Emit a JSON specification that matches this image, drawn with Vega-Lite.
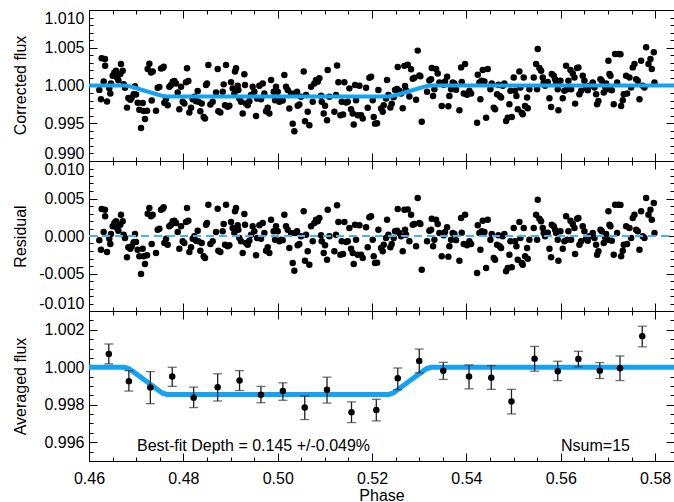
{
  "$schema": "https://vega.github.io/schema/vega-lite/v6.json",
  "padding": {"left": 11, "top": 9, "right": 1, "bottom": 0},
  "background": "white",
  "spacing": 0,
  "bounds": "flush",
  "config": {
    "view": {"stroke": "black", "strokeWidth": 1},
    "font": "Liberation Sans",
    "axis": {"domainColor": "black", "tickColor": "black", "labelColor": "black", "titleColor": "black", "labelFont": "Liberation Sans", "titleFont": "Liberation Sans", "labelFontSize": 16, "titleFontSize": 16, "titleFontWeight": "normal", "grid": false, "labelOverlap": false, "tickWidth": 1, "domainWidth": 1, "minExtent": 0}
  },
  "datasets": {
    "pts": [
      {"p":0.46219,"f":0.99942,"r":-0.00058},{"p":0.46254,"f":0.99818,"r":-0.00182},{"p":0.46269,"f":1.0036,"r":0.0036},{"p":0.46311,"f":1.00053,"r":0.00053},{"p":0.46339,"f":1.00351,"r":0.00351},{"p":0.46342,"f":1.00262,"r":0.00262},{"p":0.46382,"f":0.99787,"r":-0.00213},{"p":0.46431,"f":0.99964,"r":-0.00036},{"p":0.46452,"f":0.99893,"r":-0.00107},{"p":0.46466,"f":1.00027,"r":0.00027},
      {"p":0.46502,"f":1.00129,"r":0.00129},{"p":0.46537,"f":1.00173,"r":0.00173},{"p":0.46573,"f":1.00196,"r":0.00196},{"p":0.46594,"f":1.00107,"r":0.00107},{"p":0.46622,"f":1.00071,"r":0.00071},{"p":0.46664,"f":1.00151,"r":0.00151},{"p":0.46678,"f":1.00284,"r":0.00284},{"p":0.46714,"f":1.00196,"r":0.00196},{"p":0.46735,"f":1.00018,"r":0.00018},{"p":0.46763,"f":0.99971,"r":-0.00027},
      {"p":0.46806,"f":0.99707,"r":-0.00284},{"p":0.46834,"f":0.99835,"r":-0.00151},{"p":0.46876,"f":0.99811,"r":-0.00169},{"p":0.46905,"f":0.99837,"r":-0.00138},{"p":0.46947,"f":0.99884,"r":-0.00084},{"p":0.46975,"f":0.99991,"r":0.00027},{"p":0.46997,"f":0.9988,"r":-0.0008},{"p":0.47032,"f":0.99773,"r":-0.00182},{"p":0.47067,"f":0.99678,"r":-0.00271},{"p":0.47103,"f":0.99436,"r":-0.00507},
      {"p":0.47138,"f":0.99769,"r":-0.00169},{"p":0.47159,"f":0.99663,"r":-0.00271},{"p":0.47187,"f":0.99557,"r":-0.00373},{"p":0.4723,"f":0.99665,"r":-0.00258},{"p":0.47244,"f":1.00218,"r":0.00298},{"p":0.47279,"f":1.00288,"r":0.00373},{"p":0.47315,"f":1.00171,"r":0.00262},{"p":0.47329,"f":0.998,"r":-0.00107},{"p":0.4735,"f":1.00187,"r":0.00284},{"p":0.47421,"f":0.99665,"r":-0.00227},
      {"p":0.47456,"f":0.9997,"r":0.00084},{"p":0.47491,"f":0.99979,"r":0.00098},{"p":0.47527,"f":1.00226,"r":0.00351},{"p":0.47562,"f":1.00233,"r":0.00364},{"p":0.47583,"f":1.00248,"r":0.00382},{"p":0.47597,"f":0.99771,"r":-0.00093},{"p":0.47633,"f":0.99822,"r":-0.00036},{"p":0.47668,"f":0.99739,"r":-0.00116},{"p":0.47703,"f":0.99984,"r":0.00129},{"p":0.47739,"f":1.00006,"r":0.00151},
      {"p":0.47774,"f":1.00051,"r":0.00196},{"p":0.47809,"f":1.00059,"r":0.00204},{"p":0.47845,"f":1.00028,"r":0.00173},{"p":0.4788,"f":0.99908,"r":0.00053},{"p":0.47915,"f":0.99686,"r":-0.00169},{"p":0.47951,"f":0.99984,"r":0.00129},{"p":0.47986,"f":0.99784,"r":-0.00071},{"p":0.48021,"f":0.99762,"r":-0.00093},{"p":0.48057,"f":1.00042,"r":0.00187},{"p":0.48078,"f":1.00228,"r":0.00373},
      {"p":0.48106,"f":1.00059,"r":0.00204},{"p":0.48127,"f":0.99642,"r":-0.00213},{"p":0.48163,"f":0.99704,"r":-0.00151},{"p":0.48198,"f":0.99819,"r":-0.00036},{"p":0.48233,"f":0.99851,"r":-0.00004},{"p":0.48269,"f":0.99793,"r":-0.00062},{"p":0.48304,"f":0.99926,"r":0.00071},{"p":0.48318,"f":0.99784,"r":-0.00071},{"p":0.4836,"f":0.99659,"r":-0.00196},{"p":0.48389,"f":0.99762,"r":-0.00093},
      {"p":0.48431,"f":0.99584,"r":-0.00271},{"p":0.48459,"f":0.99562,"r":-0.00293},{"p":0.48481,"f":1.00006,"r":0.00151},{"p":0.48502,"f":1.00028,"r":0.00173},{"p":0.4853,"f":1.00273,"r":0.00418},{"p":0.48573,"f":0.99748,"r":-0.00107},{"p":0.48622,"f":0.99784,"r":-0.00071},{"p":0.48693,"f":0.99908,"r":0.00053},{"p":0.48728,"f":1.00219,"r":0.00364},{"p":0.48742,"f":0.99659,"r":-0.00196},
      {"p":0.48784,"f":0.99642,"r":-0.00213},{"p":0.48834,"f":0.99917,"r":0.00062},{"p":0.48855,"f":1.00015,"r":0.0016},{"p":0.48883,"f":0.99739,"r":-0.00116},{"p":0.48905,"f":1.00273,"r":0.00418},{"p":0.4894,"f":0.99717,"r":-0.00138},{"p":0.48975,"f":0.99731,"r":-0.00124},{"p":0.49011,"f":1.00042,"r":0.00187},{"p":0.49046,"f":0.99962,"r":0.00107},{"p":0.49081,"f":0.99895,"r":0.0004},
      {"p":0.49095,"f":1.00184,"r":0.00329},{"p":0.49117,"f":1.00228,"r":0.00373},{"p":0.49152,"f":0.99997,"r":0.00142},{"p":0.49166,"f":0.99939,"r":0.00084},{"p":0.49187,"f":0.99828,"r":-0.00027},{"p":0.49222,"f":0.99784,"r":-0.00071},{"p":0.49258,"f":0.99628,"r":-0.00227},{"p":0.49293,"f":1.00148,"r":0.00293},{"p":0.49307,"f":1.00006,"r":0.00151},{"p":0.49328,"f":0.99762,"r":-0.00093},
      {"p":0.49364,"f":0.99739,"r":-0.00116},{"p":0.49399,"f":0.99793,"r":-0.00062},{"p":0.49435,"f":0.99873,"r":0.00018},{"p":0.4947,"f":0.99984,"r":0.00129},{"p":0.49505,"f":0.99917,"r":0.00062},{"p":0.49541,"f":0.99597,"r":-0.00258},{"p":0.49562,"f":0.99828,"r":-0.00027},{"p":0.49611,"f":0.99997,"r":0.00142},{"p":0.49647,"f":0.99819,"r":-0.00036},{"p":0.49682,"f":1.00028,"r":0.00173},
      {"p":0.49717,"f":0.99895,"r":0.0004},{"p":0.49753,"f":0.99659,"r":-0.00196},{"p":0.49788,"f":0.99704,"r":-0.00151},{"p":0.49823,"f":0.99628,"r":-0.00227},{"p":0.49859,"f":1.00073,"r":0.00218},{"p":0.49915,"f":0.99917,"r":0.00062},{"p":0.49944,"f":0.99806,"r":-0.00049},{"p":0.49965,"f":0.99984,"r":0.00129},{"p":0.5,"f":0.99917,"r":0.00062},{"p":0.50035,"f":0.99784,"r":-0.00071},
      {"p":0.50071,"f":0.99806,"r":-0.00049},{"p":0.50106,"f":0.998,"r":-0.00055},{"p":0.50141,"f":1.00139,"r":0.00284},{"p":0.50177,"f":0.99984,"r":0.00129},{"p":0.50212,"f":0.99939,"r":0.00084},{"p":0.50247,"f":0.99695,"r":-0.0016},{"p":0.50283,"f":0.99895,"r":0.0004},{"p":0.50318,"f":0.99495,"r":-0.0036},{"p":0.50353,"f":0.99393,"r":-0.00462},{"p":0.50367,"f":0.99895,"r":0.0004},
      {"p":0.5041,"f":0.99917,"r":0.00062},{"p":0.50424,"f":0.99731,"r":-0.00124},{"p":0.50459,"f":0.99748,"r":-0.00107},{"p":0.50494,"f":0.99851,"r":-0.00004},{"p":0.50551,"f":1.00184,"r":0.00329},{"p":0.50579,"f":0.99526,"r":-0.00329},{"p":0.50601,"f":0.99873,"r":0.00018},{"p":0.50636,"f":0.99651,"r":-0.00204},{"p":0.50671,"f":0.99473,"r":-0.00382},{"p":0.50707,"f":0.99984,"r":0.00129},
      {"p":0.50742,"f":0.99784,"r":-0.00071},{"p":0.50777,"f":1.00028,"r":0.00173},{"p":0.50813,"f":1.00073,"r":0.00218},{"p":0.50848,"f":1.00051,"r":0.00196},{"p":0.50883,"f":1.00095,"r":0.0024},{"p":0.50919,"f":0.99864,"r":0.00009},{"p":0.50933,"f":0.99784,"r":-0.00071},{"p":0.50975,"f":0.99628,"r":-0.00227},{"p":0.51003,"f":0.99731,"r":-0.00124},{"p":0.51046,"f":0.99539,"r":-0.00316},
      {"p":0.5106,"f":1.00206,"r":0.00351},{"p":0.51095,"f":0.99851,"r":-0.00004},{"p":0.51201,"f":0.99651,"r":-0.00204},{"p":0.51236,"f":0.99873,"r":0.00018},{"p":0.51258,"f":1.00264,"r":0.00409},{"p":0.51286,"f":1.00042,"r":0.00187},{"p":0.51329,"f":0.99606,"r":-0.00249},{"p":0.51357,"f":0.99784,"r":-0.00071},{"p":0.51385,"f":0.99615,"r":-0.0024},{"p":0.51413,"f":1.00042,"r":0.00187},
      {"p":0.51449,"f":0.99775,"r":-0.0008},{"p":0.51484,"f":0.99784,"r":-0.00071},{"p":0.51519,"f":0.99962,"r":0.00107},{"p":0.51555,"f":0.99686,"r":-0.00169},{"p":0.5159,"f":0.99628,"r":-0.00227},{"p":0.51611,"f":0.99482,"r":-0.00373},{"p":0.5164,"f":1.00006,"r":0.00151},{"p":0.51661,"f":0.99806,"r":-0.00049},{"p":0.51696,"f":0.99606,"r":-0.00249},{"p":0.51732,"f":0.99997,"r":0.00142},
      {"p":0.51767,"f":0.99606,"r":-0.00249},{"p":0.51802,"f":0.99562,"r":-0.00293},{"p":0.51873,"f":0.99971,"r":0.00116},{"p":0.51908,"f":0.99704,"r":-0.00151},{"p":0.51943,"f":1.00104,"r":0.00249},
      {"p":0.51979,"f":1.00117,"r":0.00262},{"p":0.52014,"f":0.99806,"r":-0.00049},{"p":0.52035,"f":0.99584,"r":-0.00271},{"p":0.52063,"f":0.99495,"r":-0.0036},{"p":0.52106,"f":0.995,"r":-0.00355},{"p":0.52134,"f":0.99939,"r":0.00084},{"p":0.52191,"f":0.99695,"r":-0.0016},{"p":0.52226,"f":0.99651,"r":-0.00204},{"p":0.52247,"f":0.99739,"r":-0.00116},{"p":0.52297,"f":0.99828,"r":-0.00027},
      {"p":0.52318,"f":1.00073,"r":0.00218},{"p":0.52346,"f":0.99873,"r":0.00018},{"p":0.52388,"f":0.9971,"r":-0.00151},{"p":0.52417,"f":0.99759,"r":-0.00107},{"p":0.52459,"f":0.99846,"r":-0.00027},{"p":0.52487,"f":0.99939,"r":0.00062},{"p":0.5253,"f":0.99955,"r":0.00071},{"p":0.52544,"f":1.00246,"r":0.0036},{"p":0.52579,"f":0.99932,"r":0.0004},{"p":0.52615,"f":0.99894,"r":-0.00004},
      {"p":0.5265,"f":0.99699,"r":-0.00204},{"p":0.52685,"f":1.0026,"r":0.00351},{"p":0.52699,"f":0.99995,"r":0.00084},{"p":0.52721,"f":0.99933,"r":0.00018},{"p":0.52756,"f":1.00275,"r":0.00355},{"p":0.52791,"f":0.99855,"r":-0.00071},{"p":0.52827,"f":1.00216,"r":0.00284},{"p":0.52862,"f":1.00089,"r":0.00151},{"p":0.52897,"f":1.00103,"r":0.0016},{"p":0.52933,"f":0.99811,"r":-0.00138},
      {"p":0.52968,"f":1.00462,"r":0.00507},{"p":0.53003,"f":1.00133,"r":0.00173},{"p":0.53024,"f":1.00124,"r":0.0016},{"p":0.53053,"f":0.99519,"r":-0.00449},{"p":0.53166,"f":0.99916,"r":-0.00071},{"p":0.53215,"f":1.00065,"r":0.00071},{"p":0.53251,"f":1.00084,"r":0.00084},{"p":0.53265,"f":1.00231,"r":0.00231},{"p":0.53293,"f":0.99862,"r":-0.00138},{"p":0.53321,"f":0.99951,"r":-0.00049},
      {"p":0.53357,"f":1.00218,"r":0.00218},{"p":0.53392,"f":1.0016,"r":0.0016},{"p":0.53427,"f":1.0004,"r":0.0004},{"p":0.53477,"f":0.99729,"r":-0.00271},{"p":0.53519,"f":1.00009,"r":0.00009},{"p":0.53547,"f":1.00053,"r":0.00053},{"p":0.5359,"f":1.00116,"r":0.00116},{"p":0.53618,"f":0.99725,"r":-0.00275},{"p":0.53639,"f":0.99862,"r":-0.00138},{"p":0.53675,"f":0.99951,"r":-0.00049},
      {"p":0.5371,"f":1.0004,"r":0.0004},{"p":0.53745,"f":1.00027,"r":0.00027},{"p":0.53781,"f":0.99945,"r":-0.00055},{"p":0.53851,"f":0.99671,"r":-0.00329},{"p":0.53887,"f":1.0024,"r":0.0024},{"p":0.53901,"f":1.00045,"r":0.00045},{"p":0.53943,"f":0.99893,"r":-0.00107},{"p":0.53972,"f":1.00284,"r":0.00284},{"p":0.54014,"f":0.99876,"r":-0.00124},{"p":0.54063,"f":0.99929,"r":-0.00071},
      {"p":0.54099,"f":0.99893,"r":-0.00107},{"p":0.54226,"f":0.99507,"r":-0.00493},{"p":0.5424,"f":1.00142,"r":0.00142},{"p":0.54275,"f":1.0004,"r":0.0004},{"p":0.54296,"f":0.99818,"r":-0.00182},{"p":0.54325,"f":1.00062,"r":0.00062},{"p":0.54346,"f":1.00204,"r":0.00204},{"p":0.54381,"f":1.00053,"r":0.00053},{"p":0.54417,"f":0.99573,"r":-0.00427},{"p":0.54452,"f":1.00218,"r":0.00218},
      {"p":0.54508,"f":0.99951,"r":-0.00049},{"p":0.54537,"f":1.00027,"r":0.00027},{"p":0.54579,"f":0.99707,"r":-0.00293},{"p":0.54607,"f":0.99684,"r":-0.00316},{"p":0.5465,"f":0.99884,"r":-0.00116},{"p":0.54678,"f":1.00009,"r":0.00009},{"p":0.54706,"f":0.99862,"r":-0.00138},{"p":0.54735,"f":0.9984,"r":-0.0016},{"p":0.5477,"f":0.99996,"r":-0.00004},{"p":0.54805,"f":1.00027,"r":0.00027},
      {"p":0.54841,"f":0.99529,"r":-0.00471},{"p":0.54876,"f":0.99573,"r":-0.00427},{"p":0.54911,"f":0.99751,"r":-0.00249},{"p":0.54932,"f":0.99929,"r":-0.00071},{"p":0.54961,"f":0.99582,"r":-0.00418},{"p":0.55003,"f":1.00107,"r":0.00107},{"p":0.55031,"f":0.99929,"r":-0.00071},{"p":0.5506,"f":0.99862,"r":-0.00138},{"p":0.55088,"f":0.99684,"r":-0.00316},{"p":0.55123,"f":1.00187,"r":0.00187},
      {"p":0.55144,"f":0.99973,"r":-0.00027},{"p":0.55173,"f":0.9964,"r":-0.0036},{"p":0.55194,"f":0.99618,"r":-0.00382},{"p":0.55215,"f":1.00107,"r":0.00107},{"p":0.55243,"f":0.99729,"r":-0.00271},{"p":0.55286,"f":0.9984,"r":-0.0016},{"p":0.553,"f":0.99698,"r":-0.00302},{"p":0.55335,"f":0.99951,"r":-0.00049},{"p":0.55427,"f":1.00107,"r":0.00107},{"p":0.55477,"f":1.00284,"r":0.00284},
      {"p":0.55498,"f":0.99951,"r":-0.00049},{"p":0.55512,"f":1.00484,"r":0.00484},{"p":0.55547,"f":1.00231,"r":0.00231},{"p":0.55583,"f":1.00196,"r":0.00196},{"p":0.55618,"f":1.00107,"r":0.00107},{"p":0.55639,"f":1.0004,"r":0.0004},{"p":0.55668,"f":0.99996,"r":-0.00004},{"p":0.55724,"f":1.00045,"r":0.00045},{"p":0.5576,"f":0.99831,"r":-0.00169},{"p":0.55795,"f":0.99716,"r":-0.00284},
      {"p":0.55809,"f":1.00151,"r":0.00151},{"p":0.55851,"f":1.00129,"r":0.00129},{"p":0.5588,"f":1.00084,"r":0.00084},{"p":0.55901,"f":1.0004,"r":0.0004},{"p":0.55936,"f":0.99951,"r":-0.00049},{"p":0.5595,"f":0.99671,"r":-0.00329},{"p":0.55993,"f":1.00062,"r":0.00062},{"p":0.56042,"f":0.99831,"r":-0.00169},{"p":0.56077,"f":0.99929,"r":-0.00071},{"p":0.56113,"f":1.00262,"r":0.00262},
      {"p":0.56134,"f":0.99951,"r":-0.00049},{"p":0.56162,"f":1.00062,"r":0.00062},{"p":0.56205,"f":1.00204,"r":0.00204},{"p":0.56219,"f":0.99951,"r":-0.00049},{"p":0.56254,"f":1.0016,"r":0.0016},{"p":0.5629,"f":1.00107,"r":0.00107},{"p":0.56304,"f":0.9976,"r":-0.0024},{"p":0.56346,"f":1.00231,"r":0.00231},{"p":0.56374,"f":1.0024,"r":0.0024},{"p":0.56395,"f":0.99884,"r":-0.00116},
      {"p":0.56431,"f":0.99929,"r":-0.00071},{"p":0.56466,"f":1.00129,"r":0.00129},{"p":0.56501,"f":1.00062,"r":0.00062},{"p":0.56537,"f":0.99964,"r":-0.00036},{"p":0.56572,"f":0.99938,"r":-0.00062},{"p":0.56607,"f":0.99996,"r":-0.00004},{"p":0.56678,"f":1.0004,"r":0.0004},{"p":0.56714,"f":0.99973,"r":-0.00027},{"p":0.56749,"f":0.99884,"r":-0.00116},{"p":0.5677,"f":0.99751,"r":-0.00249},
      {"p":0.56798,"f":0.99796,"r":-0.00204},{"p":0.56841,"f":1.00084,"r":0.00084},{"p":0.56869,"f":1.00062,"r":0.00062},{"p":0.56911,"f":0.99907,"r":-0.00093},{"p":0.5694,"f":0.99982,"r":-0.00018},{"p":0.56961,"f":1.00027,"r":0.00027},{"p":0.56996,"f":0.99951,"r":-0.00049},{"p":0.5701,"f":1.00329,"r":0.00329},{"p":0.57032,"f":1.00151,"r":0.00151},{"p":0.57053,"f":1.00129,"r":0.00129},
      {"p":0.57081,"f":0.99938,"r":-0.00062},{"p":0.57123,"f":0.99751,"r":-0.00249},{"p":0.57152,"f":1.00418,"r":0.00418},{"p":0.57194,"f":1.0004,"r":0.0004},{"p":0.57222,"f":1.00418,"r":0.00418},{"p":0.57265,"f":1.00415,"r":0.00415},{"p":0.57279,"f":0.99729,"r":-0.00271},{"p":0.57314,"f":0.99804,"r":-0.00196},{"p":0.57335,"f":0.99884,"r":-0.00116},{"p":0.57385,"f":1.00129,"r":0.00129},
      {"p":0.57406,"f":0.99893,"r":-0.00107},{"p":0.57456,"f":1.00107,"r":0.00107},{"p":0.57491,"f":0.99973,"r":-0.00027},{"p":0.57526,"f":1.0024,"r":0.0024},{"p":0.57562,"f":1.00284,"r":0.00284},{"p":0.57597,"f":1.00084,"r":0.00084},{"p":0.57632,"f":1.00062,"r":0.00062},{"p":0.57668,"f":0.99818,"r":-0.00182},{"p":0.57703,"f":1.00329,"r":0.00329},{"p":0.57738,"f":0.99996,"r":-0.00004},
      {"p":0.57774,"f":0.99973,"r":-0.00027},{"p":0.57809,"f":1.00507,"r":0.00507},{"p":0.57859,"f":1.00284,"r":0.00284},{"p":0.57901,"f":1.00351,"r":0.00351},{"p":0.57929,"f":1.00218,"r":0.00218},{"p":0.57972,"f":1.0044,"r":0.0044},{"p":0.57986,"f":1.0004,"r":0.0004}
    ],
    "model": [
      {"p":0.46,"m":1},{"p":0.4675,"m":1},{"p":0.4685,"m":0.99992},{"p":0.4695,"m":0.99974},{"p":0.472,"m":0.999275},{"p":0.4745,"m":0.99881},{"p":0.4755,"m":0.99863},{"p":0.4765,"m":0.99855},{"p":0.5235,"m":0.99855},{"p":0.5245,"m":0.99863},{"p":0.5255,"m":0.99881},{"p":0.528,"m":0.999275},{"p":0.5305,"m":0.99974},{"p":0.5315,"m":0.99992},{"p":0.5325,"m":1},{"p":0.584,"m":1}
    ],
    "zero": [{"p":0.46,"z":0},{"p":0.584,"z":0}],
    "bins": [
      {"p":0.4642,"v":1.00071,"lo":1.00018,"hi":1.00124},
      {"p":0.46845,"v":0.99926,"lo":0.99873,"hi":0.99982},
      {"p":0.473,"v":0.99892,"lo":0.99806,"hi":0.99977},
      {"p":0.47764,"v":0.99951,"lo":0.99898,"hi":1.0},
      {"p":0.48218,"v":0.99838,"lo":0.99785,"hi":0.99894},
      {"p":0.48727,"v":0.99894,"lo":0.9982,"hi":0.99965},
      {"p":0.49191,"v":0.99929,"lo":0.99876,"hi":0.99982},
      {"p":0.49645,"v":0.99854,"lo":0.99811,"hi":0.99898},
      {"p":0.50109,"v":0.99873,"lo":0.99824,"hi":0.99917},
      {"p":0.50573,"v":0.99785,"lo":0.99721,"hi":0.99847},
      {"p":0.51045,"v":0.9988,"lo":0.99809,"hi":0.99947},
      {"p":0.51564,"v":0.9976,"lo":0.99705,"hi":0.99815},
      {"p":0.5209,"v":0.99772,"lo":0.99714,"hi":0.99829},
      {"p":0.52545,"v":0.99942,"lo":0.9988,"hi":0.99996},
      {"p":0.53,"v":1.00034,"lo":0.9997,"hi":1.00097},
      {"p":0.5351,"v":0.99981,"lo":0.99935,"hi":1.00026},
      {"p":0.54055,"v":0.99951,"lo":0.99885,"hi":1.00012},
      {"p":0.54527,"v":0.99944,"lo":0.99882,"hi":1.00009},
      {"p":0.54955,"v":0.99818,"lo":0.99751,"hi":0.99882},
      {"p":0.55445,"v":1.00046,"lo":0.99979,"hi":1.00111},
      {"p":0.55936,"v":0.99979,"lo":0.99929,"hi":1.00032},
      {"p":0.56373,"v":1.00044,"lo":1.00002,"hi":1.00085},
      {"p":0.56827,"v":0.99982,"lo":0.9994,"hi":1.00025},
      {"p":0.57255,"v":0.99995,"lo":0.99929,"hi":1.0006},
      {"p":0.57727,"v":1.00166,"lo":1.00109,"hi":1.00219}
    ],
    "notes": [
      {"p":0.47018,"v":0.99578,"t":"Best-fit Depth = 0.145 +/-0.049%"},
      {"p":0.56006,"v":0.99578,"t":"Nsum=15"}
    ]
  },
  "vconcat": [
    {
      "width": 585, "height": 151,
      "layer": [
        {
          "data": {"name": "pts"},
          "mark": {"type": "circle", "size": 42, "color": "black", "opacity": 1},
          "encoding": {
            "x": {"field": "p", "type": "quantitative", "scale": {"domain": [0.46, 0.584], "nice": false, "zero": false},
                  "axis": {"orient": "bottom", "title": null, "labels": false, "values": [0.46,0.465,0.47,0.475,0.48,0.485,0.49,0.495,0.5,0.505,0.51,0.515,0.52,0.525,0.53,0.535,0.54,0.545,0.55,0.555,0.56,0.565,0.57,0.575,0.58],
                           "tickSize": {"condition": {"test": "abs(datum.value*50-round(datum.value*50))<0.01", "value": -8}, "value": -4}}},
            "y": {"field": "f", "type": "quantitative", "scale": {"domain": [0.99, 1.01], "nice": false, "zero": false},
                  "axis": {"orient": "left", "title": "Corrected flux", "titleX": -69, "titleY": 75, "titleAngle": -90, "titleAlign": "center", "titleBaseline": "middle",
                           "values": [0.99,0.991,0.992,0.993,0.994,0.995,0.996,0.997,0.998,0.999,1,1.001,1.002,1.003,1.004,1.005,1.006,1.007,1.008,1.009,1.01],
                           "labelExpr": "abs(datum.value*200-round(datum.value*200))<0.01 ? replace(format(datum.value,'.3f'),'\u2212','-') : ''",
                           "labelFlush": true, "labelPadding": 13,
                           "tickSize": {"condition": {"test": "abs(datum.value*200-round(datum.value*200))<0.01", "value": -8}, "value": -4}}}
          }
        },
        {
          "data": {"name": "model"},
          "mark": {"type": "line", "color": "#14a2f2", "strokeWidth": 4},
          "encoding": {
            "x": {"field": "p", "type": "quantitative", "scale": {"domain": [0.46, 0.584], "nice": false, "zero": false},
                  "axis": {"orient": "top", "title": null, "labels": false, "values": [0.46,0.465,0.47,0.475,0.48,0.485,0.49,0.495,0.5,0.505,0.51,0.515,0.52,0.525,0.53,0.535,0.54,0.545,0.55,0.555,0.56,0.565,0.57,0.575,0.58],
                           "tickSize": {"condition": {"test": "abs(datum.value*50-round(datum.value*50))<0.01", "value": -8}, "value": -4}}},
            "y": {"field": "m", "type": "quantitative", "scale": {"domain": [0.99, 1.01], "nice": false, "zero": false},
                  "axis": {"orient": "right", "title": null, "labels": false,
                           "values": [0.99,0.991,0.992,0.993,0.994,0.995,0.996,0.997,0.998,0.999,1,1.001,1.002,1.003,1.004,1.005,1.006,1.007,1.008,1.009,1.01],
                           "tickSize": {"condition": {"test": "abs(datum.value*200-round(datum.value*200))<0.01", "value": -8}, "value": -4}}}
          }
        }
      ],
      "resolve": {"axis": {"x": "independent", "y": "independent"}}
    },
    {
      "width": 585, "height": 150,
      "layer": [
        {
          "data": {"name": "pts"},
          "mark": {"type": "circle", "size": 42, "color": "black", "opacity": 1},
          "encoding": {
            "x": {"field": "p", "type": "quantitative", "scale": {"domain": [0.46, 0.584], "nice": false, "zero": false},
                  "axis": {"orient": "bottom", "title": null, "labels": false, "values": [0.46,0.465,0.47,0.475,0.48,0.485,0.49,0.495,0.5,0.505,0.51,0.515,0.52,0.525,0.53,0.535,0.54,0.545,0.55,0.555,0.56,0.565,0.57,0.575,0.58],
                           "tickSize": {"condition": {"test": "abs(datum.value*50-round(datum.value*50))<0.01", "value": -8}, "value": -4}}},
            "y": {"field": "r", "type": "quantitative", "scale": {"domain": [-0.01, 0.01], "nice": false, "zero": false},
                  "axis": {"orient": "left", "title": "Residual", "titleX": -69, "titleY": 75, "titleAngle": -90, "titleAlign": "center", "titleBaseline": "middle",
                           "values": [-0.01,-0.009,-0.008,-0.007,-0.006,-0.005,-0.004,-0.003,-0.002,-0.001,0,0.001,0.002,0.003,0.004,0.005,0.006,0.007,0.008,0.009,0.01],
                           "labelExpr": "abs(datum.value*200-round(datum.value*200))<0.01 ? replace(format(datum.value,'.3f'),'\u2212','-') : ''",
                           "labelFlush": true, "labelPadding": 13,
                           "tickSize": {"condition": {"test": "abs(datum.value*200-round(datum.value*200))<0.01", "value": -8}, "value": -4}}}
          }
        },
        {
          "data": {"name": "zero"},
          "mark": {"type": "line", "color": "#45b2f5", "strokeWidth": 2, "strokeDash": [8, 5]},
          "encoding": {
            "x": {"field": "p", "type": "quantitative", "scale": {"domain": [0.46, 0.584], "nice": false, "zero": false},
                  "axis": {"orient": "top", "title": null, "labels": false, "values": [0.46,0.465,0.47,0.475,0.48,0.485,0.49,0.495,0.5,0.505,0.51,0.515,0.52,0.525,0.53,0.535,0.54,0.545,0.55,0.555,0.56,0.565,0.57,0.575,0.58],
                           "tickSize": {"condition": {"test": "abs(datum.value*50-round(datum.value*50))<0.01", "value": -8}, "value": -4}}},
            "y": {"field": "z", "type": "quantitative", "scale": {"domain": [-0.01, 0.01], "nice": false, "zero": false},
                  "axis": {"orient": "right", "title": null, "labels": false,
                           "values": [-0.01,-0.009,-0.008,-0.007,-0.006,-0.005,-0.004,-0.003,-0.002,-0.001,0,0.001,0.002,0.003,0.004,0.005,0.006,0.007,0.008,0.009,0.01],
                           "tickSize": {"condition": {"test": "abs(datum.value*200-round(datum.value*200))<0.01", "value": -8}, "value": -4}}}
          }
        }
      ],
      "resolve": {"axis": {"x": "independent", "y": "independent"}}
    },
    {
      "width": 585, "height": 150,
      "layer": [
        {
          "data": {"name": "model"},
          "mark": {"type": "line", "color": "#14a2f2", "strokeWidth": 5},
          "encoding": {
            "x": {"field": "p", "type": "quantitative", "scale": {"domain": [0.46, 0.584], "nice": false, "zero": false},
                  "axis": {"orient": "top", "title": null, "labels": false, "values": [0.46,0.465,0.47,0.475,0.48,0.485,0.49,0.495,0.5,0.505,0.51,0.515,0.52,0.525,0.53,0.535,0.54,0.545,0.55,0.555,0.56,0.565,0.57,0.575,0.58],
                           "tickSize": {"condition": {"test": "abs(datum.value*50-round(datum.value*50))<0.01", "value": -8}, "value": -4}}},
            "y": {"field": "m", "type": "quantitative", "scale": {"domain": [0.995, 1.003], "nice": false, "zero": false},
                  "axis": {"orient": "right", "title": null, "labels": false,
                           "values": [0.995,0.9955,0.996,0.9965,0.997,0.9975,0.998,0.9985,0.999,0.9995,1,1.0005,1.001,1.0015,1.002,1.0025,1.003],
                           "tickSize": {"condition": {"test": "abs(datum.value*500-round(datum.value*500))<0.01", "value": -8}, "value": -4}}}
          }
        },
        {
          "data": {"name": "bins"},
          "mark": {"type": "rule", "color": "#222222", "strokeWidth": 1.3},
          "encoding": {
            "x": {"field": "p", "type": "quantitative", "axis": null},
            "y": {"field": "lo", "type": "quantitative", "axis": null},
            "y2": {"field": "hi"}
          }
        },
        {
          "data": {"name": "bins"},
          "mark": {"type": "tick", "orient": "horizontal", "color": "#333333", "size": 9, "thickness": 1.3},
          "encoding": {
            "x": {"field": "p", "type": "quantitative", "axis": null},
            "y": {"field": "lo", "type": "quantitative", "axis": null}
          }
        },
        {
          "data": {"name": "bins"},
          "mark": {"type": "tick", "orient": "horizontal", "color": "#333333", "size": 9, "thickness": 1.3},
          "encoding": {
            "x": {"field": "p", "type": "quantitative", "axis": null},
            "y": {"field": "hi", "type": "quantitative", "axis": null}
          }
        },
        {
          "data": {"name": "bins"},
          "mark": {"type": "circle", "size": 42, "color": "black", "opacity": 1},
          "encoding": {
            "x": {"field": "p", "type": "quantitative", "scale": {"domain": [0.46, 0.584], "nice": false, "zero": false},
                  "axis": {"orient": "bottom", "title": "Phase", "titleY": 26, "titleBaseline": "top",
                           "values": [0.46,0.465,0.47,0.475,0.48,0.485,0.49,0.495,0.5,0.505,0.51,0.515,0.52,0.525,0.53,0.535,0.54,0.545,0.55,0.555,0.56,0.565,0.57,0.575,0.58],
                           "labelExpr": "abs(datum.value*50-round(datum.value*50))<0.01 ? format(datum.value,'.2f') : ''",
                           "labelFlush": false, "labelPadding": 17,
                           "tickSize": {"condition": {"test": "abs(datum.value*50-round(datum.value*50))<0.01", "value": -8}, "value": -4}}},
            "y": {"field": "v", "type": "quantitative", "scale": {"domain": [0.995, 1.003], "nice": false, "zero": false},
                  "axis": {"orient": "left", "title": "Averaged flux", "titleX": -69, "titleY": 75, "titleAngle": -90, "titleAlign": "center", "titleBaseline": "middle",
                           "values": [0.995,0.9955,0.996,0.9965,0.997,0.9975,0.998,0.9985,0.999,0.9995,1,1.0005,1.001,1.0015,1.002,1.0025,1.003],
                           "labelExpr": "abs(datum.value*500-round(datum.value*500))<0.01 ? format(datum.value,'.3f') : ''",
                           "labelFlush": false, "labelPadding": 13,
                           "tickSize": {"condition": {"test": "abs(datum.value*500-round(datum.value*500))<0.01", "value": -8}, "value": -4}}}
          }
        },
        {
          "data": {"name": "notes"},
          "mark": {"type": "text", "align": "left", "baseline": "middle", "fontSize": 16, "font": "Liberation Sans", "color": "black"},
          "encoding": {
            "x": {"field": "p", "type": "quantitative", "axis": null},
            "y": {"field": "v", "type": "quantitative", "axis": null},
            "text": {"field": "t"}
          }
        }
      ],
      "resolve": {"axis": {"x": "independent", "y": "independent"}}
    }
  ]
}
